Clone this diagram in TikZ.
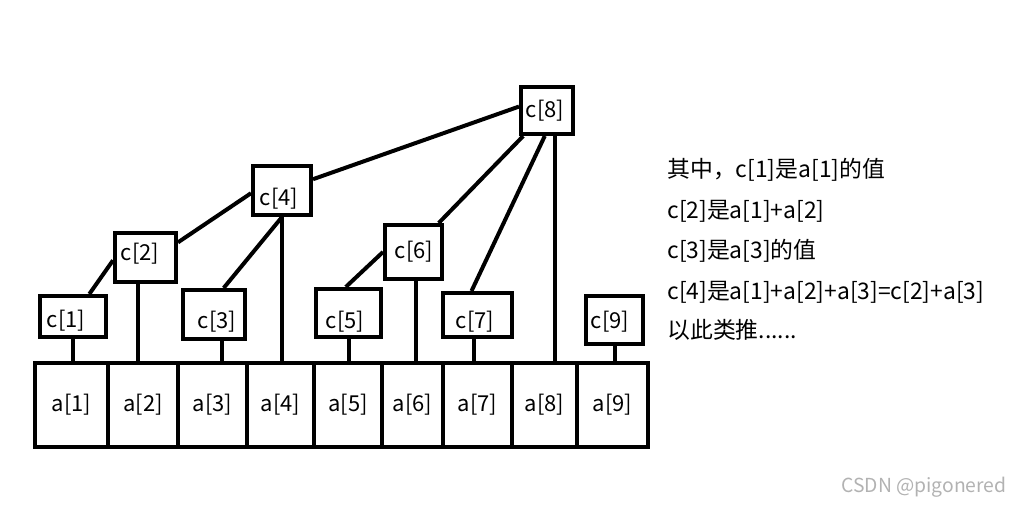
\documentclass[tikz,border=0pt]{standalone}
\usepackage{fontspec}
\setmainfont{Noto Sans CJK SC}

\tikzset{
  wire/.style={line width=0.08cm},
  lbl/.style={font=\fontsize{12.5}{15}\selectfont, inner sep=0pt},
  cell/.style={draw, wire, lbl, minimum height=1.68cm},
  cbox/.style={draw, wire, inner sep=0pt},
  note/.style={lbl, font=\fontsize{13}{15}\selectfont, anchor=west},
}

\begin{document}
\begin{tikzpicture}[x=0.02cm, y=-0.02cm]
  \useasboundingbox (0,0) rectangle (1021,508);
  % the array a[1..9]
  \foreach \i/\l/\r in {1/35/108, 2/108/178, 3/178/247, 4/247/314, 5/314/382, 6/382/443, 7/443/512, 8/512/577, 9/577/648}
    \node[cell, minimum width={(\r-\l)*0.02cm}] (a\i) at ({(\l+\r)/2}, 405) {a[\i]};
  % the boxes c[1..9]
  \foreach \i/\x/\y/\w/\h/\tx/\ty in {1/73/316.5/66/41/66/321, 2/145.5/257.5/61/49/140/254, 3/214/314.5/62/49/217/322, 4/282/190.5/58/49/279/199, 5/348.5/313/65/48/345/322, 6/413.5/252/57/54/414/252, 7/477.5/315/69/44/475/322, 8/547/110.5/52/47/545/111, 9/614.5/320/57/48/610/322}
  {
    \node[cbox, minimum width={\w*0.02cm}, minimum height={\h*0.02cm}] (c\i) at (\x,\y) {};
    \node[lbl] (ct\i) at (\tx,\ty) {c[\i]};
  }
  % links between the c boxes
  \draw[wire] (c1.54) -- (c2.185);
  \draw[wire] (c2.25) -- (c4.185);
  \draw[wire] (c3.70) -- (c4.south);
  \draw[wire] (c5.96) -- (c6.180);
  \draw[wire] (c4.20) -- (c8.172);
  \draw[wire] (c8.227) -- (c6.49);
  \draw[wire] (c8.265) -- (c7.104);
  % drops from the c boxes to the array
  \foreach \src/\dst in {c1.south/a1, c2.255/a2, c3.286/a3, c4.south/a4, c5.south/a5, c6.275/a6, c7.261/a7, c8.287/a8, c9.south/a9}
    \draw[wire] (\src) -- (\src |- \dst.north);
  % notes on the right
  \node[note] (n1) at (667,170) {其中，c[1]是a[1]的值};
  \node[note] (n2) at (667,211) {c[2]是a[1]+a[2]};
  \node[note] (n3) at (667,251) {c[3]是a[3]的值};
  \node[note] (n4) at (667,292) {c[4]是a[1]+a[2]+a[3]=c[2]+a[3]};
  \node[note] (n5) at (667,330) {以此类推......};
  \node[lbl, font=\fontsize{11}{13}\selectfont, text=gray!60, anchor=east] (mark) at (1007,487) {CSDN @pigonered};
\end{tikzpicture}
\end{document}
